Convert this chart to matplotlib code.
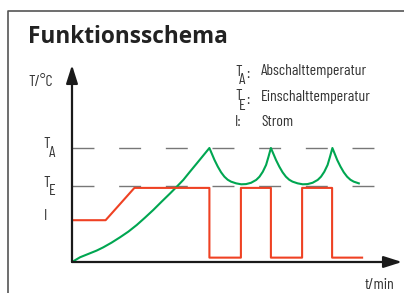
import matplotlib.pyplot as plt
import matplotlib.font_manager as fm
from matplotlib.transforms import Affine2D
from matplotlib.lines import Line2D

# --- data (t in min, T in degC, current in arbitrary units)
T_A = 60
T_E = 40

t_heat = [0, 0.27, 0.6, 0.82, 1.04, 1.32, 1.6, 1.88, 2.16, 2.43, 2.71, 2.99,
          3.27, 3.49, 3.71, 3.93, 4.16, 4.58]
temp_heat = [0, 2.5, 4.6, 6.0, 7.7, 10.2, 13.0, 16.0, 19.5, 23.3, 27.4, 31.8,
             36.1, 39.6, 43.2, 47.5, 51.9, 60]

# one switching cycle, measured from a peak
cycle_dt = [0, 0.17, 0.28, 0.39, 0.5, 0.61, 0.72, 0.89, 1.06, 1.22, 1.39, 1.56,
            1.67, 1.78, 1.89, 1.97, 2.05]
cycle_temp = [60, 53.7, 50.2, 47.2, 44.9, 43.3, 42.3, 41.4, 40.9, 41.0, 41.7, 43.2,
              44.9, 47.5, 51.1, 55.4, 60]
peaks = [4.58, 6.63, 8.67]
t_end = 9.67

t_current = [0, 1.12, 2.08, 4.58, 4.58, 5.63, 5.63, 6.63, 6.63, 7.67, 7.67, 8.67, 8.67, 9.67]
current = [22, 22, 39, 39, 2.3, 2.3, 39, 39, 2.3, 2.3, 39, 39, 2.3, 2.3]

legend_items = [("T", "A", "Abschalttemperatur"),
                ("T", "E", "Einschalttemperatur"),
                ("I", "", "Strom")]

# build green curve from the pieces
t_green = list(t_heat)
temp_green = list(temp_heat)
for p in peaks:
    for dt, v in zip(cycle_dt[1:], cycle_temp[1:]):
        if p + dt <= t_end + 0.02:
            t_green.append(p + dt)
            temp_green.append(v)

# narrow face for the labels
names = {f.name for f in fm.fontManager.ttflist}
narrow = 'Liberation Sans'
for cand in ['Barlow Condensed', 'Asap Condensed', 'Roboto Condensed']:
    if cand in names:
        narrow = cand
        break

W, H = 404, 293
fig = plt.figure(figsize=(W / 100, H / 100), dpi=100)
px = Affine2D().scale(1 / W, -1 / H).translate(0, 1) + fig.transFigure

# outer frame (top and left edge only)
fig.add_artist(Line2D([8, 8, W], [H, 11, 11], transform=px, color='#555555', lw=1.2))

ax = fig.add_axes([72 / W, (H - 262) / H, (402 - 72) / W, (262 - 65) / H])
ax.set_xlim(0, 11)
ax.set_ylim(0, (262 - 65) / 1.9)
ax.axis('off')

# dashed reference lines
for lvl in (T_A, T_E):
    ax.plot([0, 10.07], [lvl, lvl], color='#777777', lw=1.0,
            linestyle=(0, (15.8, 17.8)), zorder=1)

ax.plot(t_current, current, color='#ef4123', lw=1.5, zorder=3)
ax.plot(t_green, temp_green, color='#00a651', lw=1.5, zorder=2,
        solid_joinstyle='round')

# axes with arrow heads
arrow = dict(arrowstyle='-|>,head_length=1.1,head_width=0.35', color='#1a1a1a',
             lw=1.6, mutation_scale=10, shrinkA=0, shrinkB=0)
ax.annotate('', xy=(1, 0), xytext=(0, 0), xycoords='axes fraction',
            arrowprops=arrow, annotation_clip=False)
ax.annotate('', xy=(0, 1), xytext=(0, 0), xycoords='axes fraction',
            arrowprops=arrow, annotation_clip=False)

# texts
fig.text(28, 43, 'Funktionsschema', transform=px, fontsize=16.3, fontweight='bold',
         family='Open Sans', color='#222222', va='baseline')

tk = dict(transform=px, family=narrow, color='#333333', va='baseline', fontsize=11.3)
fig.text(28, 86, 'T/°C', **tk)
fig.text(365, 289, 't/min', **tk)

fig.text(43, 148, 'T', **tk)
fig.text(49, 157, 'A', **tk)
fig.text(43, 187, 'T', **tk)
fig.text(49, 195, 'E', **tk)
fig.text(44, 220, 'I', **tk)

for i, (main, sub, desc) in enumerate(legend_items):
    y = 75.5 + i * 25
    if sub:
        fig.text(235, y, main, **tk)
        fig.text(239, y + 9, sub, **tk)
        fig.text(246, y + 3, ':', **tk)
    else:
        fig.text(235, y, main + ':', **tk)
    fig.text(261, y, desc, **tk)

fig.savefig('out.png', dpi=100)
